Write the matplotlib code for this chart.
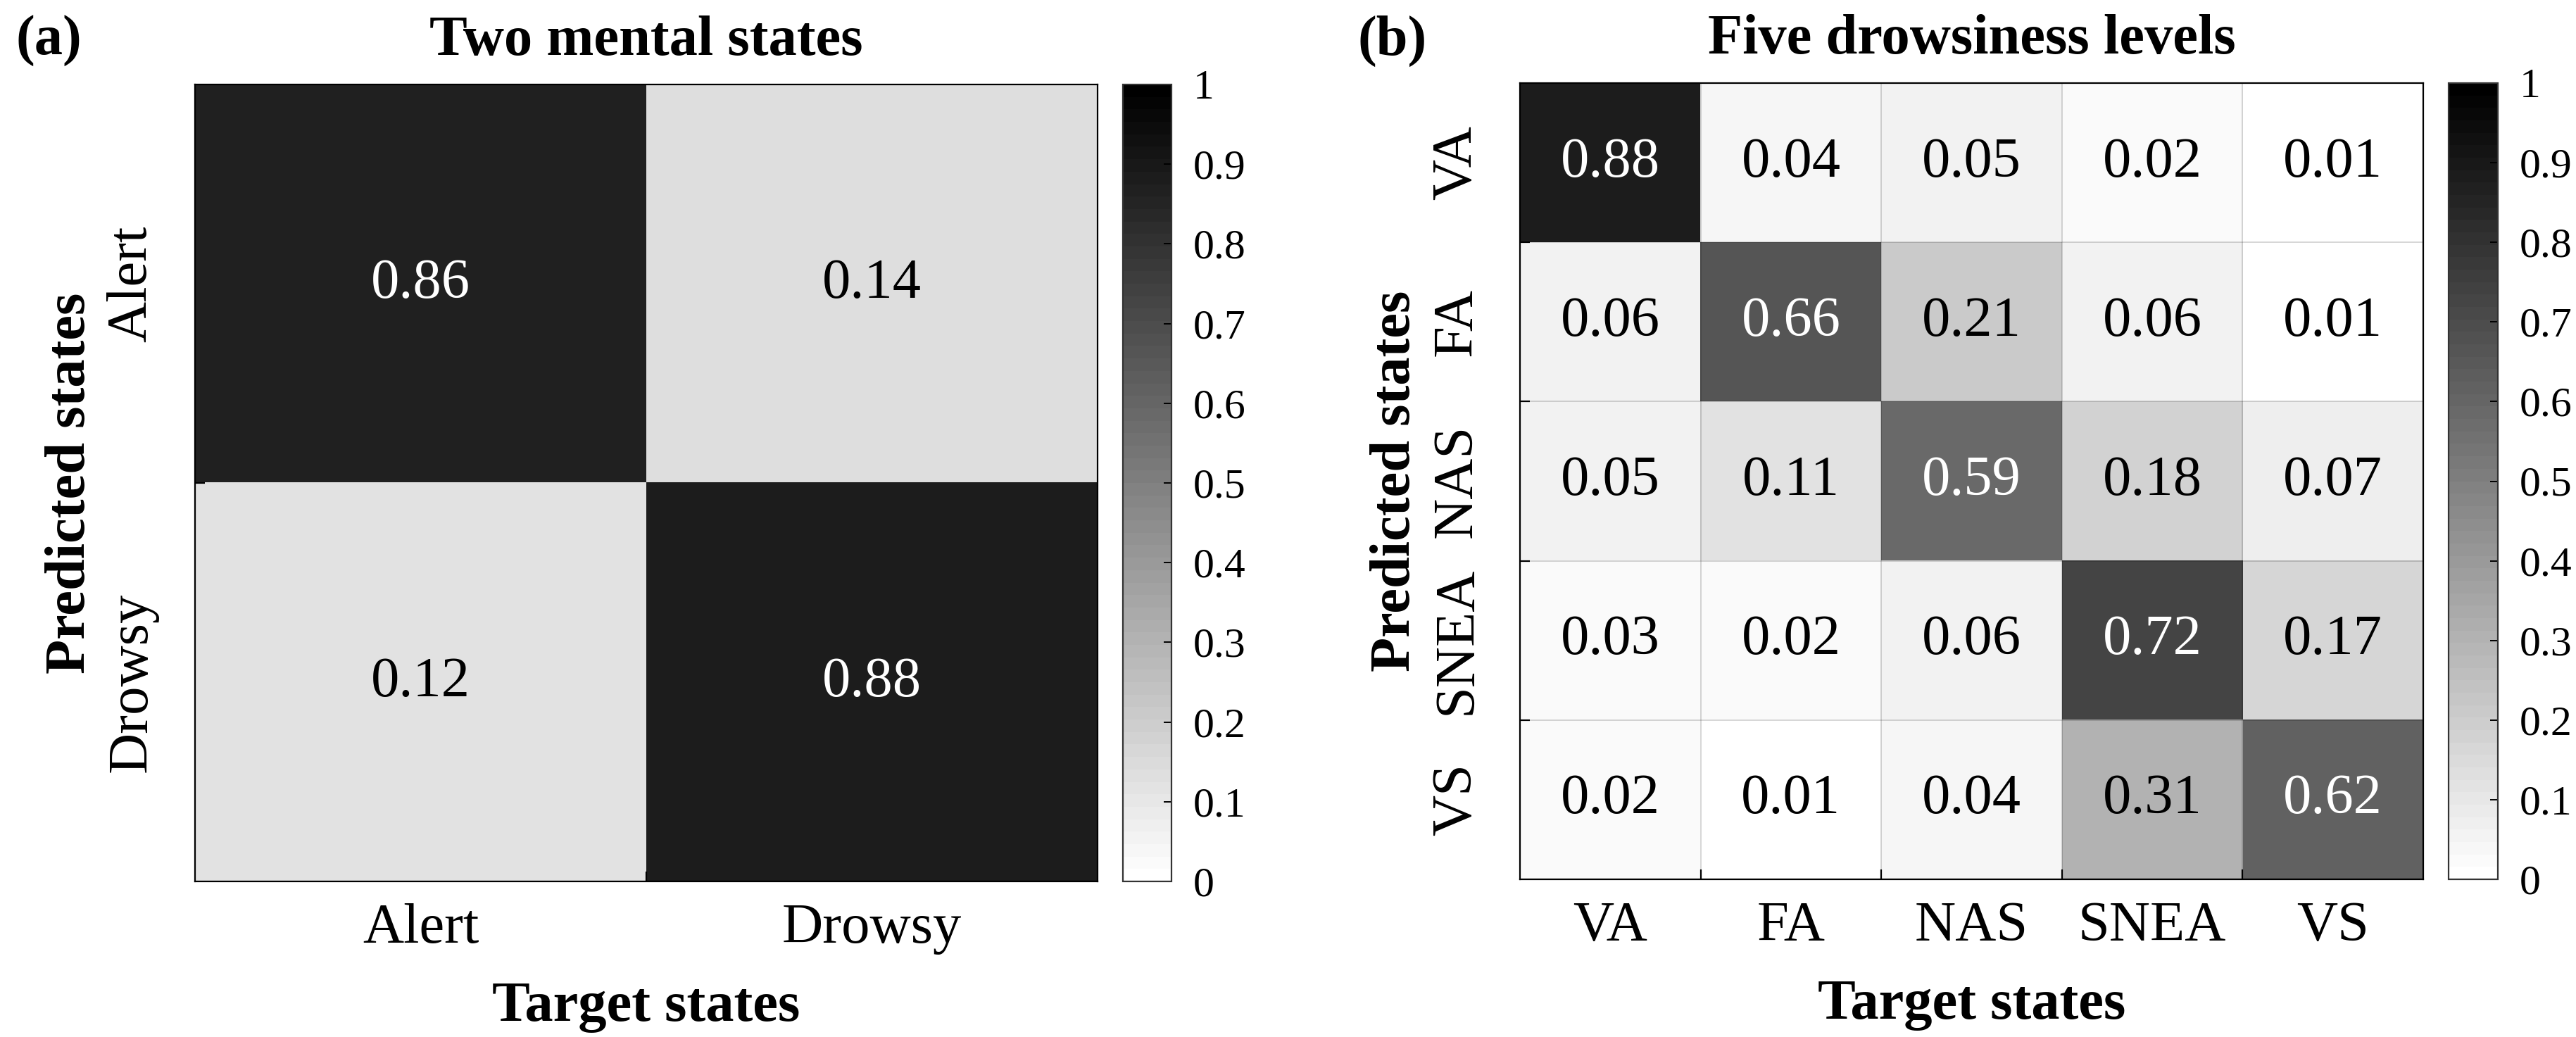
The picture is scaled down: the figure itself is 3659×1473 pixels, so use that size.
import numpy as np
import matplotlib
matplotlib.use('Agg')
import matplotlib.pyplot as plt
from matplotlib.ticker import FixedLocator

# data
two_labels = ['Alert', 'Drowsy']
two_cm = np.array([[0.86, 0.14],
                   [0.12, 0.88]])

five_labels = ['VA', 'FA', 'NAS', 'SNEA', 'VS']
five_cm = np.array([[0.88, 0.04, 0.05, 0.02, 0.01],
                    [0.06, 0.66, 0.21, 0.06, 0.01],
                    [0.05, 0.11, 0.59, 0.18, 0.07],
                    [0.03, 0.02, 0.06, 0.72, 0.17],
                    [0.02, 0.01, 0.04, 0.31, 0.62]])

cbar_ticks = np.round(np.arange(0, 1.01, 0.1), 1)

plt.rcParams['font.family'] = ['Liberation Serif', 'DejaVu Serif']

W, H = 3659, 1473
fig = plt.figure(figsize=(W / 100, H / 100), dpi=100)
cmap = plt.get_cmap('gray_r', 64)
fs = 58
fs_cb = 43


def px(x0, y0, x1, y1):
    return [x0 / W, 1 - y1 / H, (x1 - x0) / W, (y1 - y0) / H]


def draw(ax, cax, cm, labels, title, grid):
    n = len(labels)
    im = ax.imshow(cm, cmap=cmap, vmin=0, vmax=1, aspect='auto', interpolation='nearest')
    for i in range(n):
        for j in range(n):
            v = cm[i, j]
            ax.text(j, i, f'{v:.2f}', ha='center', va='center', fontsize=fs,
                    color='white' if v > 0.5 else 'black')
    ax.set_xticks(range(n))
    ax.set_yticks(range(n))
    ax.set_xticklabels(labels, fontsize=fs)
    ax.set_yticklabels(labels, fontsize=fs, rotation=90, va='center')
    ax.tick_params(which='major', length=0, pad=22)
    ax.tick_params(axis='y', which='major', pad=38)
    bounds = np.arange(0.5, n - 1, 1.0)
    ax.xaxis.set_minor_locator(FixedLocator(bounds))
    ax.yaxis.set_minor_locator(FixedLocator(bounds))
    ax.tick_params(which='minor', direction='in', length=10, width=1.6, color='black')
    if grid:
        ax.grid(which='minor', color='black', alpha=0.16, linewidth=1.4)
    ax.grid(which='major', visible=False)
    for s in ax.spines.values():
        s.set_linewidth(1.6)
    ax.set_title(title, fontsize=fs, fontweight='bold', pad=30)
    ax.set_xlabel('Target states', fontsize=fs, fontweight='bold', labelpad=28)
    ax.set_ylabel('Predicted states', fontsize=fs, fontweight='bold', labelpad=10)

    cb = fig.colorbar(im, cax=cax, ticks=cbar_ticks)
    cb.ax.set_yticklabels([f'{t:g}' for t in cbar_ticks], fontsize=fs_cb)
    cb.ax.tick_params(direction='in', length=8, width=1.4, pad=22, colors='black')
    cb.outline.set_linewidth(1.6)
    cb.outline.set_edgecolor('#333333')


ax1 = fig.add_axes(px(277, 120, 1559, 1252))
cax1 = fig.add_axes(px(1595, 120, 1664, 1252))
ax2 = fig.add_axes(px(2159, 118, 3442, 1249))
cax2 = fig.add_axes(px(3478, 118, 3548, 1249))

draw(ax1, cax1, two_cm, two_labels, 'Two mental states', grid=False)
draw(ax2, cax2, five_cm, five_labels, 'Five drowsiness levels', grid=True)

fig.text(22 / W, 1 - 78 / H, '(a)', fontsize=fs, fontweight='bold', ha='left', va='baseline')
fig.text(1928 / W, 1 - 78 / H, '(b)', fontsize=fs, fontweight='bold', ha='left', va='baseline')

fig.savefig('out.png', dpi=100, facecolor='white')
